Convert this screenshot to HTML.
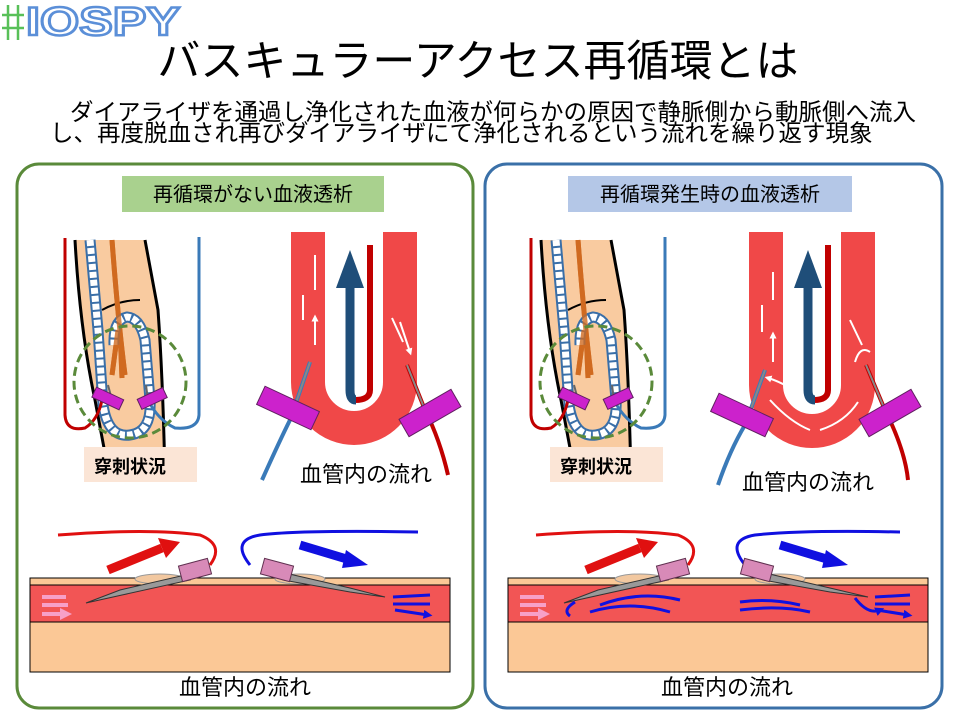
<!DOCTYPE html>
<html><head><meta charset="utf-8"><style>
html,body{margin:0;padding:0;background:#fff;width:959px;height:720px;overflow:hidden}
svg text{font-family:"Liberation Sans","Noto Sans CJK JP",sans-serif}
</style></head><body>
<svg width="959" height="720" viewBox="0 0 959 720" xmlns="http://www.w3.org/2000/svg">
<defs>
<marker id="wh" markerUnits="userSpaceOnUse" markerWidth="7" markerHeight="7" refX="3.5" refY="3.5" orient="auto"><path d="M0,0 L7,3.5 L0,7 z" fill="#fff"/></marker>
<marker id="bh" markerUnits="userSpaceOnUse" markerWidth="9" markerHeight="9" refX="4.5" refY="4.5" orient="auto"><path d="M0,0 L9,4.5 L0,9 z" fill="#1010e0"/></marker>
<marker id="ph" markerUnits="userSpaceOnUse" markerWidth="12" markerHeight="12" refX="6" refY="6" orient="auto"><path d="M0,0 L12,6 L0,12 z" fill="#f7a0c8"/></marker>
<g id="arm">
 <path d="M75 240 Q80 330 95 400 L110 480 L165 480 Q163 380 158 310 L145 240 Z" fill="#f9cba0"/>
 <path d="M75 240 Q80 330 95 400 L110 480" fill="none" stroke="#000" stroke-width="3"/>
 <path d="M145 240 L158 310 Q163 380 165 480" fill="none" stroke="#000" stroke-width="3"/>
 <path d="M102 310 Q120 300 140 300" fill="none" stroke="#000" stroke-width="2"/>
 <path d="M112 240 Q118 320 125 375 M120 330 L122 378 M118 330 L112 375" fill="none" stroke="#d06a20" stroke-width="5"/>
 <path d="M90 240 L98 330 L103 405 Q108 438 130 435 Q152 432 150 400 L145 340 Q140 318 127 317 Q113 320 114 345" fill="none" stroke="#3a6fa8" stroke-width="11"/>
 <path d="M90 240 L98 330 L103 405 Q108 438 130 435 Q152 432 150 400 L145 340 Q140 318 127 317 Q113 320 114 345" fill="none" stroke="#fff" stroke-width="7" stroke-dasharray="6 2"/>
 <path d="M112 240 Q118 320 125 375 M120 330 L122 378 M118 330 L112 375" fill="none" stroke="#d06a20" stroke-width="5" opacity="0.8"/>
 <path d="M65 238 L65 415 Q66 432 85 428 Q98 420 102 400" fill="none" stroke="#c00000" stroke-width="3"/>
 <path d="M199 237 L199 415 Q198 430 175 428 Q158 420 148 400" fill="none" stroke="#3a7ab8" stroke-width="3"/>
 <circle cx="130" cy="382" r="56" fill="none" stroke="#5a8a3a" stroke-width="3" stroke-dasharray="9 5"/>
 <path d="M108 385 L112 400 M146 385 L148 400" stroke="#666" stroke-width="2"/>
 <rect x="93" y="393" width="30" height="11" fill="#cc22cc" stroke="#602060" transform="rotate(25 108 398)"/>
 <rect x="138" y="393" width="28" height="11" fill="#cc22cc" stroke="#602060" transform="rotate(-25 152 398)"/>
 <rect x="84" y="447" width="113" height="35" fill="#fbe5d6"/>
 <text x="94" y="473" font-size="18" font-weight="bold">穿刺状況</text>
</g>
<g id="skin">
 <rect x="30" y="578" width="420" height="94" fill="#fbc896" stroke="#000" stroke-width="1"/>
 <rect x="30" y="585" width="420" height="37" fill="#f25555" stroke="#000" stroke-width="1"/>
</g>
</defs>

<!-- logo -->
<text x="26" y="35" font-size="40" font-weight="bold" fill="#fff" stroke="#5b8fd8" stroke-width="2.5" textLength="154" lengthAdjust="spacingAndGlyphs">IOSPY</text>
<path d="M2 15 H24 M2 28 H24 M8 5 V40 M18 5 V40" stroke="#58c058" stroke-width="2.5" fill="none"/>

<text x="478" y="76" font-size="43" text-anchor="middle">バスキュラーアクセス再循環とは</text>
<text x="70" y="120" font-size="23.5">ダイアライザを通過し浄化された血液が何らかの原因で静脈側から動脈側へ流入</text>
<text x="50" y="141" font-size="23.5">し、再度脱血され再びダイアライザにて浄化されるという流れを繰り返す現象</text>

<!-- panels -->
<rect x="17" y="164" width="456" height="544" rx="22" fill="#fff" stroke="#5a8a3a" stroke-width="3"/>
<rect x="485" y="164" width="457" height="544" rx="22" fill="#fff" stroke="#3a70a8" stroke-width="3"/>
<rect x="122" y="176" width="262" height="36" fill="#a9d18e"/>
<text x="253" y="201" font-size="20" text-anchor="middle">再循環がない血液透析</text>
<rect x="568" y="176" width="284" height="36" fill="#b4c7e7"/>
<text x="710" y="201" font-size="20" text-anchor="middle">再循環発生時の血液透析</text>

<use href="#arm"/>
<use href="#arm" x="466" y="0"/>

<!-- left U vessel -->
<path d="M308 232 L308 382 A46 46 0 0 0 400 382 L400 232" fill="none" stroke="#f04848" stroke-width="34"/>
<path d="M370 245 L370 390 Q370 400 355 400" stroke="#c00000" stroke-width="6" fill="none"/>
<path d="M356 400 Q350 400 350 390 L350 285" stroke="#1f4e79" stroke-width="9" fill="none"/>
<path d="M336 288 L350 250 L364 288 Z" fill="#1f4e79"/>
<path d="M315 290 V255 M303 320 V295 M315 345 V318" stroke="#fff" stroke-width="2" marker-end="url(#wh)"/>
<path d="M392 318 L403 342 M400 322 L410 352" stroke="#fff" stroke-width="2" marker-end="url(#wh)"/>
<path d="M310 362 L290 420 Q280 440 262 480" stroke="#3a7ab8" stroke-width="4" fill="none"/>
<path d="M310 362 L290 420" stroke="#888" stroke-width="2"/>
<rect x="258" y="398" width="60" height="20" fill="#cc22cc" stroke="#602060" transform="rotate(25 288 408)"/>
<path d="M407 365 L425 410 Q440 440 448 475" stroke="#c00000" stroke-width="4" fill="none"/>
<path d="M407 365 L425 410" stroke="#888" stroke-width="2"/>
<rect x="400" y="403" width="60" height="20" fill="#cc22cc" stroke="#602060" transform="rotate(-30 430 413)"/>
<text x="300" y="482" font-size="22">血管内の流れ</text>

<!-- right U vessel -->
<path d="M766 232 L766 385 A46 46 0 0 0 858 385 L858 232" fill="none" stroke="#f04848" stroke-width="34"/>
<path d="M828 245 L828 390 Q828 400 814 400" stroke="#c00000" stroke-width="6" fill="none"/>
<path d="M815 400 Q808 400 808 390 L808 285" stroke="#1f4e79" stroke-width="9" fill="none"/>
<path d="M794 288 L808 250 L822 288 Z" fill="#1f4e79"/>
<path d="M773 300 V272 M762 332 V305 M773 362 V335" stroke="#fff" stroke-width="2" marker-end="url(#wh)"/>
<path d="M850 320 L862 345 M855 362 Q860 345 870 352 M770 400 Q790 422 810 430 M820 430 Q845 422 858 402 M785 385 Q775 380 768 378" stroke="#fff" stroke-width="2" fill="none" marker-end="url(#wh)"/>
<path d="M765 370 L745 425 Q730 450 718 485" stroke="#3a7ab8" stroke-width="4" fill="none"/>
<path d="M765 370 L745 425" stroke="#888" stroke-width="2"/>
<rect x="712" y="405" width="60" height="20" fill="#cc22cc" stroke="#602060" transform="rotate(25 742 415)"/>
<path d="M866 365 L885 410 Q905 450 908 480" stroke="#c00000" stroke-width="4" fill="none"/>
<path d="M866 365 L885 410" stroke="#888" stroke-width="2"/>
<rect x="860" y="403" width="60" height="20" fill="#cc22cc" stroke="#602060" transform="rotate(-30 890 413)"/>
<text x="742" y="490" font-size="22">血管内の流れ</text>

<!-- bottom left -->
<use href="#skin"/>
<path d="M58 535 Q150 528 200 535 Q225 545 210 565" stroke="#e01010" stroke-width="3" fill="none"/>
<path d="M108 570 L162 548" stroke="#e01010" stroke-width="9"/>
<path d="M158 538 L180 542 L166 558 Z" fill="#e01010"/>
<path d="M250 565 Q230 540 260 535 Q300 530 418 532" stroke="#1010e0" stroke-width="3" fill="none"/>
<path d="M300 545 L350 560" stroke="#1010e0" stroke-width="9"/>
<path d="M346 550 L368 565 L342 568 Z" fill="#1010e0"/>
<ellipse cx="160" cy="579" rx="25" ry="5" fill="#f2c8a0" stroke="#999"/>
<ellipse cx="300" cy="579" rx="25" ry="5" fill="#f2c8a0" stroke="#999"/>
<path d="M86 603 L120 590 L185 575 L190 580 L122 595 Z" fill="#999" stroke="#333"/>
<rect x="180" y="562" width="30" height="16" fill="#d88ab8" stroke="#603050" transform="rotate(-15 195 570)"/>
<path d="M385 597 L350 588 L285 573 L283 580 L350 592 Z" fill="#999" stroke="#333"/>
<rect x="262" y="562" width="30" height="16" fill="#d88ab8" stroke="#603050" transform="rotate(15 277 570)"/>
<path d="M42 597 H66 M42 605 H68 M42 614 H66" stroke="#f7a0c8" stroke-width="4" marker-end="url(#ph)"/>
<path d="M393 597 L430 595 M393 604 L430 604 M395 610 L428 615" stroke="#1010e0" stroke-width="3" marker-end="url(#bh)"/>
<text x="245" y="695" font-size="22" text-anchor="middle">血管内の流れ</text>

<!-- bottom right -->
<use href="#skin" x="478"/>
<path d="M536 535 Q628 528 678 535 Q703 545 688 565" stroke="#e01010" stroke-width="3" fill="none"/>
<path d="M586 570 L640 548" stroke="#e01010" stroke-width="9"/>
<path d="M636 538 L658 542 L644 558 Z" fill="#e01010"/>
<path d="M745 565 Q725 540 755 535 Q800 530 900 532" stroke="#1010e0" stroke-width="3" fill="none"/>
<path d="M780 545 L830 560" stroke="#1010e0" stroke-width="9"/>
<path d="M826 550 L848 565 L822 568 Z" fill="#1010e0"/>
<ellipse cx="640" cy="579" rx="25" ry="5" fill="#f2c8a0" stroke="#999"/>
<ellipse cx="780" cy="579" rx="25" ry="5" fill="#f2c8a0" stroke="#999"/>
<path d="M564 603 L598 590 L663 575 L668 580 L600 595 Z" fill="#999" stroke="#333"/>
<rect x="658" y="562" width="30" height="16" fill="#d88ab8" stroke="#603050" transform="rotate(-15 673 570)"/>
<path d="M868 597 L830 588 L765 573 L763 580 L830 592 Z" fill="#999" stroke="#333"/>
<rect x="742" y="562" width="30" height="16" fill="#d88ab8" stroke="#603050" transform="rotate(15 757 570)"/>
<path d="M520 597 H544 M520 605 H546 M520 614 H544" stroke="#f7a0c8" stroke-width="4" marker-end="url(#ph)"/>
<path d="M875 597 L910 595 M875 604 L910 604 M877 610 L908 615" stroke="#1010e0" stroke-width="3" marker-end="url(#bh)"/>
<path d="M600 605 Q640 590 680 600 M590 612 Q630 600 670 612 M575 602 Q562 610 570 616 M800 605 Q770 598 740 602 M810 612 Q780 605 740 610 M855 598 Q868 615 880 610" stroke="#1010e0" stroke-width="3" fill="none" marker-end="url(#bh)"/>
<text x="727" y="695" font-size="22" text-anchor="middle">血管内の流れ</text>
</svg>
</body></html>
